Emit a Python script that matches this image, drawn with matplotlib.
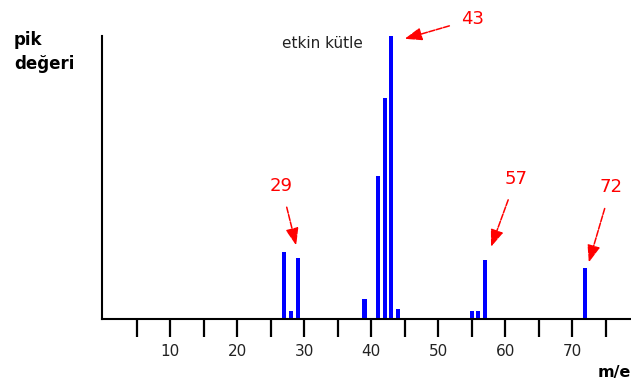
import matplotlib.pyplot as plt

# mass spectrum peaks (m/e vs relative peak value)
mass = [27, 28, 29, 39, 41, 42, 43, 44, 55, 56, 57, 72]
peak = [23.7, 2.8, 21.5, 7.0, 50.5, 78.0, 100.0, 3.5, 2.8, 2.8, 21.0, 18.0]

tick_pos = [5, 10, 15, 20, 25, 30, 35, 40, 45, 50, 55, 60, 65, 70, 75]
tick_lbl = ["", "10", "", "20", "", "30", "", "40", "", "50", "", "60", "", "70", ""]

# labelled peaks: (label, arrow tip, text position)
marked = [
    ("29", (28.8, 26.0), (26.6, 47.0)),
    ("57", (57.9, 25.5), (61.6, 49.5)),
    ("72", (72.5, 20.0), (75.8, 46.5)),
    ("43", (45.0, 99.0), (55.2, 106.0)),
]

fig = plt.figure(figsize=(6.31, 3.85), dpi=100)
ax = fig.add_axes([102 / 631, 66 / 385, 529 / 631, 283 / 385])

ax.bar(mass, peak, width=0.6, color="#0000ff")

ax.set_xlim(-0.2, 78.8)
ax.set_ylim(0, 100)
ax.spines["top"].set_visible(False)
ax.spines["right"].set_visible(False)
ax.spines["left"].set_linewidth(1.5)
ax.spines["bottom"].set_linewidth(1.5)
ax.set_yticks([])
ax.set_xticks(tick_pos)
ax.set_xticklabels(tick_lbl, fontsize=11, color="#222222")
ax.tick_params(axis="x", direction="out", length=13, width=1.6, pad=5)

for lbl, tip, txt in marked:
    ax.annotate(lbl, xy=tip, xytext=txt, ha="center", va="center",
                fontsize=13, color="red", annotation_clip=False,
                arrowprops=dict(arrowstyle="-|>,head_length=0.8,head_width=0.3",
                                color="red", lw=1.1, linestyle=(0, (4, 1)),
                                shrinkA=7, shrinkB=0))

fig.text(282 / 631, 1 - 44 / 385, "etkin kütle", fontsize=11, color="#222222",
         ha="left", va="center")
fig.text(14 / 631, 1 - 52 / 385, "pik\ndeğeri", fontsize=12, fontweight="bold",
         ha="left", va="center", linespacing=1.4)
fig.text(598 / 631, 1 - 373 / 385, "m/e", fontsize=11.5, fontweight="bold",
         ha="left", va="center")

fig.savefig("out.png", dpi=100)
